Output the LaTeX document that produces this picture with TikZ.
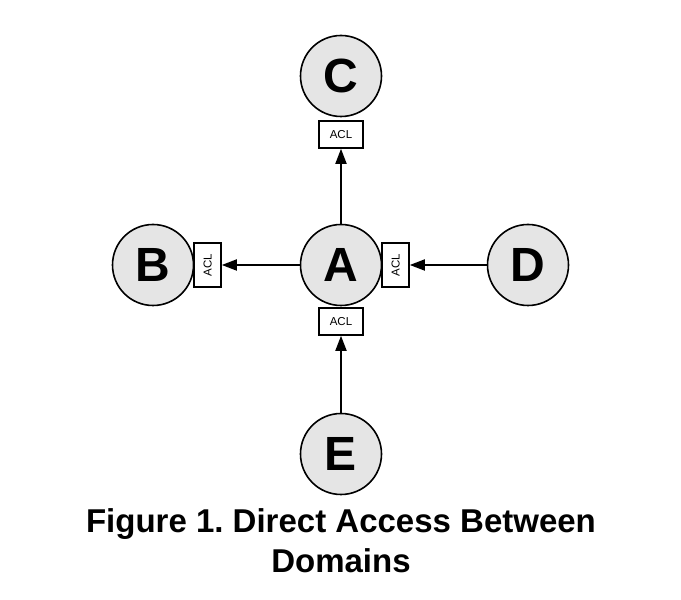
\documentclass[tikz,border=0pt]{standalone}
\usepackage{fontspec}
\setmainfont{Liberation Sans}
\usepackage{graphicx}
\usetikzlibrary{positioning,arrows.meta}
\definecolor{domaingray}{RGB}{229,229,229}
\tikzset{
    domainnode/.style={draw, circle, fill=domaingray, line width=1.6pt, minimum size=81pt,
                   inner sep=0pt, font=\fontsize{48}{48}\selectfont\bfseries},
    aclbox/.style={draw, fill=white, line width=1.5pt, minimum width=44pt, minimum height=27pt,
                   inner sep=0pt, font=\fontsize{11.5}{12}\selectfont},
    aclside/.style={aclbox, minimum width=27pt, minimum height=44pt},
    flow/.style={line width=1.8pt, -{Triangle[length=15pt,width=11pt]}}
}
\begin{document}
\frenchspacing
\begin{tikzpicture}[x=1pt,y=1pt]
        \useasboundingbox (0,0) rectangle (681,600);
        % Domaenen
        \node[domainnode] (A) at (341,335) {A};
        \node[domainnode] (B) at (153,335) {B};
        \node[domainnode] (C) at (341,524) {C};
        \node[domainnode] (D) at (528,335) {D};
        \node[domainnode] (E) at (341,146) {E};
        % ACL
        \node[aclbox, below=3pt of C] (aclC) {ACL};
        \node[aclbox, below=1pt of A] (aclAb) {ACL};
        \node[aclside, right=-1pt of A] (aclAr) {\rotatebox{90}{ACL}};
        \node[aclside, right=-1pt of B] (aclB) {\rotatebox{90}{ACL}};
        % Pfeile
        \draw [flow] (A) -- (aclC);
        \draw [flow] (A) -- (aclB);
        \draw [flow] (D) -- (aclAr);
        \draw [flow] (E) -- (aclAb);
        % Titel
        \node[anchor=base, align=center, font=\fontsize{33}{40}\selectfont\bfseries] (title) at (341,27)
            {Figure 1. Direct Access Between\\Domains};
    \end{tikzpicture}
\end{document}
